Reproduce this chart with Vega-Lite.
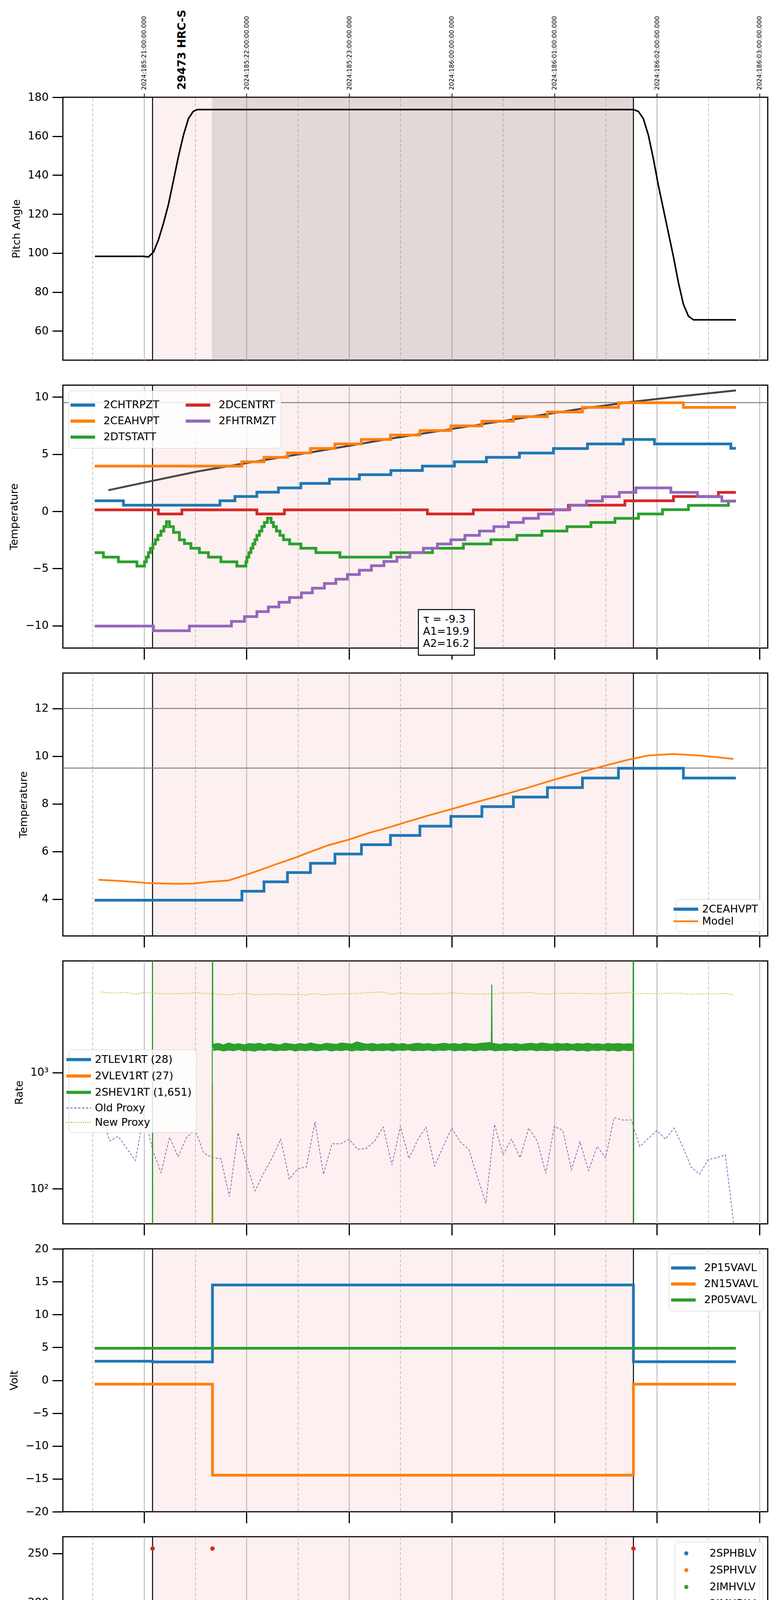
{
  "$schema": "https://vega.github.io/schema/vega-lite/v6.json",
  "padding": {"left": 21, "top": 23, "right": 10, "bottom": 0},
  "background": "white",
  "spacing": 64,
  "bounds": "flush",
  "resolve": {"scale": {"color": "independent", "strokeDash": "independent"}, "legend": {"color": "independent", "strokeDash": "independent"}},
  "config": {
    "font": "DejaVu Sans",
    "view": {"stroke": "black", "strokeWidth": 3},
    "axis": {"labelColor": "black", "titleColor": "black", "tickColor": "black", "domain": false, "labelFont": "DejaVu Sans", "titleFont": "DejaVu Sans", "titleFontWeight": "normal"},
    "axisY": {"tickSize": 27, "tickWidth": 3, "labelFontSize": 28, "labelPadding": 10, "titleFontSize": 27, "titlePadding": 14, "grid": false},
    "axisX": {"tickWidth": 3, "labelFontSize": 28, "labelFlush": false, "labelOverlap": false, "labelLimit": 0},
    "legend": {"labelFontSize": 27, "labelFont": "DejaVu Sans", "labelColor": "black", "symbolSize": 1764, "symbolStrokeWidth": 8, "labelOffset": 28, "rowPadding": 0, "columnPadding": 50, "padding": 12, "fillColor": "rgba(255,255,255,0.8)", "strokeColor": "#cccccc", "cornerRadius": 8, "labelLimit": 500, "offset": 14}
  },
  "datasets": {
    "spans": [{"a": 17.084, "b": 21.771}],
    "dark": [{"a": 17.662, "b": 21.771}],
    "marks": [{"t": 17.084}, {"t": 21.771}],
    "obs": [{"t": 17.376, "label": "29473 HRC-S"}],
    "ref": [{"v": 9.5}, {"v": 12}],
    "pitch": [
      {"t": 16.522, "v": 98.3}, {"t": 17.0, "v": 98.3}, {"t": 17.044, "v": 98.0}, {"t": 17.093, "v": 100.5}, {"t": 17.141, "v": 106.7},
      {"t": 17.19, "v": 115.2}, {"t": 17.239, "v": 125.0}, {"t": 17.288, "v": 137.3}, {"t": 17.336, "v": 149.5}, {"t": 17.385, "v": 160.5},
      {"t": 17.434, "v": 169.1}, {"t": 17.482, "v": 172.8}, {"t": 17.521, "v": 173.7}, {"t": 21.771, "v": 173.7}, {"t": 21.82, "v": 172.7},
      {"t": 21.868, "v": 169.0}, {"t": 21.917, "v": 160.5}, {"t": 21.966, "v": 148.3}, {"t": 22.014, "v": 134.8}, {"t": 22.063, "v": 122.6},
      {"t": 22.112, "v": 110.4}, {"t": 22.161, "v": 98.1}, {"t": 22.21, "v": 84.7}, {"t": 22.258, "v": 73.7}, {"t": 22.307, "v": 67.6},
      {"t": 22.356, "v": 65.7}, {"t": 22.77, "v": 65.7}
    ],
    "p2": [
      {"s": "2CHTRPZT", "t": 16.52, "v": 0.92}, {"s": "2CHTRPZT", "t": 16.8, "v": 0.54}, {"s": "2CHTRPZT", "t": 17.741, "v": 0.92}, {"s": "2CHTRPZT", "t": 17.887, "v": 1.3},
      {"s": "2CHTRPZT", "t": 18.101, "v": 1.67}, {"s": "2CHTRPZT", "t": 18.311, "v": 2.05}, {"s": "2CHTRPZT", "t": 18.53, "v": 2.44}, {"s": "2CHTRPZT", "t": 18.808, "v": 2.82},
      {"s": "2CHTRPZT", "t": 19.1, "v": 3.2}, {"s": "2CHTRPZT", "t": 19.407, "v": 3.57}, {"s": "2CHTRPZT", "t": 19.714, "v": 3.95}, {"s": "2CHTRPZT", "t": 20.026, "v": 4.33},
      {"s": "2CHTRPZT", "t": 20.338, "v": 4.72}, {"s": "2CHTRPZT", "t": 20.66, "v": 5.1}, {"s": "2CHTRPZT", "t": 20.991, "v": 5.49}, {"s": "2CHTRPZT", "t": 21.323, "v": 5.89},
      {"s": "2CHTRPZT", "t": 21.673, "v": 6.28}, {"s": "2CHTRPZT", "t": 21.976, "v": 5.89}, {"s": "2CHTRPZT", "t": 22.721, "v": 5.51}, {"s": "2CHTRPZT", "t": 22.77, "v": 5.51},
      {"s": "2CEAHVPT", "t": 16.52, "v": 3.95}, {"s": "2CEAHVPT", "t": 17.955, "v": 4.33}, {"s": "2CEAHVPT", "t": 18.17, "v": 4.72}, {"s": "2CEAHVPT", "t": 18.399, "v": 5.11},
      {"s": "2CEAHVPT", "t": 18.623, "v": 5.5}, {"s": "2CEAHVPT", "t": 18.862, "v": 5.89}, {"s": "2CEAHVPT", "t": 19.12, "v": 6.28}, {"s": "2CEAHVPT", "t": 19.403, "v": 6.67},
      {"s": "2CEAHVPT", "t": 19.69, "v": 7.06}, {"s": "2CEAHVPT", "t": 19.992, "v": 7.47}, {"s": "2CEAHVPT", "t": 20.294, "v": 7.88}, {"s": "2CEAHVPT", "t": 20.601, "v": 8.28},
      {"s": "2CEAHVPT", "t": 20.933, "v": 8.68}, {"s": "2CEAHVPT", "t": 21.274, "v": 9.08}, {"s": "2CEAHVPT", "t": 21.625, "v": 9.49}, {"s": "2CEAHVPT", "t": 22.258, "v": 9.08},
      {"s": "2CEAHVPT", "t": 22.77, "v": 9.08},
      {"s": "2DTSTATT", "t": 16.52, "v": -3.61}, {"s": "2DTSTATT", "t": 16.605, "v": -4.0}, {"s": "2DTSTATT", "t": 16.751, "v": -4.41}, {"s": "2DTSTATT", "t": 16.932, "v": -4.79},
      {"s": "2DTSTATT", "t": 17.005, "v": -4.41}, {"s": "2DTSTATT", "t": 17.024, "v": -4.0}, {"s": "2DTSTATT", "t": 17.044, "v": -3.61}, {"s": "2DTSTATT", "t": 17.063, "v": -3.23},
      {"s": "2DTSTATT", "t": 17.088, "v": -2.85}, {"s": "2DTSTATT", "t": 17.112, "v": -2.48}, {"s": "2DTSTATT", "t": 17.136, "v": -2.1}, {"s": "2DTSTATT", "t": 17.166, "v": -1.72},
      {"s": "2DTSTATT", "t": 17.195, "v": -1.34}, {"s": "2DTSTATT", "t": 17.219, "v": -0.9}, {"s": "2DTSTATT", "t": 17.249, "v": -1.34}, {"s": "2DTSTATT", "t": 17.288, "v": -1.84},
      {"s": "2DTSTATT", "t": 17.346, "v": -2.49}, {"s": "2DTSTATT", "t": 17.395, "v": -2.82}, {"s": "2DTSTATT", "t": 17.458, "v": -3.23}, {"s": "2DTSTATT", "t": 17.541, "v": -3.61},
      {"s": "2DTSTATT", "t": 17.629, "v": -4.0}, {"s": "2DTSTATT", "t": 17.75, "v": -4.41}, {"s": "2DTSTATT", "t": 17.906, "v": -4.79}, {"s": "2DTSTATT", "t": 17.994, "v": -4.41},
      {"s": "2DTSTATT", "t": 18.004, "v": -4.0}, {"s": "2DTSTATT", "t": 18.023, "v": -3.61}, {"s": "2DTSTATT", "t": 18.043, "v": -3.23}, {"s": "2DTSTATT", "t": 18.062, "v": -2.85},
      {"s": "2DTSTATT", "t": 18.082, "v": -2.48}, {"s": "2DTSTATT", "t": 18.101, "v": -2.1}, {"s": "2DTSTATT", "t": 18.126, "v": -1.72}, {"s": "2DTSTATT", "t": 18.15, "v": -1.34},
      {"s": "2DTSTATT", "t": 18.174, "v": -0.97}, {"s": "2DTSTATT", "t": 18.204, "v": -0.6}, {"s": "2DTSTATT", "t": 18.24, "v": -0.97}, {"s": "2DTSTATT", "t": 18.262, "v": -1.34},
      {"s": "2DTSTATT", "t": 18.291, "v": -1.72}, {"s": "2DTSTATT", "t": 18.326, "v": -2.1}, {"s": "2DTSTATT", "t": 18.36, "v": -2.48}, {"s": "2DTSTATT", "t": 18.42, "v": -2.85},
      {"s": "2DTSTATT", "t": 18.53, "v": -3.23}, {"s": "2DTSTATT", "t": 18.676, "v": -3.61}, {"s": "2DTSTATT", "t": 18.91, "v": -4.0}, {"s": "2DTSTATT", "t": 19.407, "v": -3.61},
      {"s": "2DTSTATT", "t": 19.812, "v": -3.23}, {"s": "2DTSTATT", "t": 20.114, "v": -2.85}, {"s": "2DTSTATT", "t": 20.382, "v": -2.48}, {"s": "2DTSTATT", "t": 20.635, "v": -2.1},
      {"s": "2DTSTATT", "t": 20.879, "v": -1.72}, {"s": "2DTSTATT", "t": 21.123, "v": -1.34}, {"s": "2DTSTATT", "t": 21.357, "v": -0.97}, {"s": "2DTSTATT", "t": 21.591, "v": -0.61},
      {"s": "2DTSTATT", "t": 21.82, "v": -0.23}, {"s": "2DTSTATT", "t": 22.054, "v": 0.15}, {"s": "2DTSTATT", "t": 22.307, "v": 0.52}, {"s": "2DTSTATT", "t": 22.697, "v": 0.9},
      {"s": "2DTSTATT", "t": 22.77, "v": 0.9},
      {"s": "2DCENTRT", "t": 16.52, "v": 0.13}, {"s": "2DCENTRT", "t": 17.141, "v": -0.23}, {"s": "2DCENTRT", "t": 17.37, "v": 0.13}, {"s": "2DCENTRT", "t": 18.101, "v": -0.23},
      {"s": "2DCENTRT", "t": 18.369, "v": 0.13}, {"s": "2DCENTRT", "t": 19.763, "v": -0.23}, {"s": "2DCENTRT", "t": 20.211, "v": 0.13}, {"s": "2DCENTRT", "t": 21.137, "v": 0.54},
      {"s": "2DCENTRT", "t": 21.688, "v": 0.92}, {"s": "2DCENTRT", "t": 22.161, "v": 1.3}, {"s": "2DCENTRT", "t": 22.599, "v": 1.66}, {"s": "2DCENTRT", "t": 22.77, "v": 1.66},
      {"s": "2FHTRMZT", "t": 16.52, "v": -10.03}, {"s": "2FHTRMZT", "t": 17.093, "v": -10.44}, {"s": "2FHTRMZT", "t": 17.443, "v": -10.03}, {"s": "2FHTRMZT", "t": 17.853, "v": -9.62},
      {"s": "2FHTRMZT", "t": 17.98, "v": -9.2}, {"s": "2FHTRMZT", "t": 18.101, "v": -8.77}, {"s": "2FHTRMZT", "t": 18.213, "v": -8.36}, {"s": "2FHTRMZT", "t": 18.316, "v": -7.95},
      {"s": "2FHTRMZT", "t": 18.418, "v": -7.54}, {"s": "2FHTRMZT", "t": 18.535, "v": -7.13}, {"s": "2FHTRMZT", "t": 18.642, "v": -6.72}, {"s": "2FHTRMZT", "t": 18.759, "v": -6.31},
      {"s": "2FHTRMZT", "t": 18.871, "v": -5.93}, {"s": "2FHTRMZT", "t": 18.983, "v": -5.52}, {"s": "2FHTRMZT", "t": 19.1, "v": -5.15}, {"s": "2FHTRMZT", "t": 19.217, "v": -4.75},
      {"s": "2FHTRMZT", "t": 19.339, "v": -4.38}, {"s": "2FHTRMZT", "t": 19.466, "v": -4.0}, {"s": "2FHTRMZT", "t": 19.593, "v": -3.61}, {"s": "2FHTRMZT", "t": 19.724, "v": -3.23},
      {"s": "2FHTRMZT", "t": 19.861, "v": -2.85}, {"s": "2FHTRMZT", "t": 19.992, "v": -2.48}, {"s": "2FHTRMZT", "t": 20.129, "v": -2.1}, {"s": "2FHTRMZT", "t": 20.27, "v": -1.72},
      {"s": "2FHTRMZT", "t": 20.411, "v": -1.34}, {"s": "2FHTRMZT", "t": 20.553, "v": -0.97}, {"s": "2FHTRMZT", "t": 20.699, "v": -0.61}, {"s": "2FHTRMZT", "t": 20.845, "v": -0.23},
      {"s": "2FHTRMZT", "t": 20.991, "v": 0.15}, {"s": "2FHTRMZT", "t": 21.152, "v": 0.52}, {"s": "2FHTRMZT", "t": 21.313, "v": 0.9}, {"s": "2FHTRMZT", "t": 21.469, "v": 1.28},
      {"s": "2FHTRMZT", "t": 21.634, "v": 1.66}, {"s": "2FHTRMZT", "t": 21.795, "v": 2.05}, {"s": "2FHTRMZT", "t": 22.136, "v": 1.66}, {"s": "2FHTRMZT", "t": 22.395, "v": 1.28},
      {"s": "2FHTRMZT", "t": 22.633, "v": 0.9}, {"s": "2FHTRMZT", "t": 22.77, "v": 0.9}
    ],
    "fit": [
      {"t": 16.654, "v": 1.85}, {"t": 17.044, "v": 2.59}, {"t": 17.531, "v": 3.5}, {"t": 17.955, "v": 4.15}, {"t": 18.628, "v": 5.16}, {"t": 19.407, "v": 6.36},
      {"t": 20.299, "v": 7.62}, {"t": 21.274, "v": 8.98}, {"t": 21.771, "v": 9.59}, {"t": 22.258, "v": 10.08}, {"t": 22.77, "v": 10.57}
    ],
    "fitbox": [{"a": 19.675, "b": 20.221, "lo": -12.57, "hi": -8.59}],
    "fittext": [
      {"t": 19.72, "v": -9.46, "label": "τ = -9.3"},
      {"t": 19.72, "v": -10.52, "label": "A1=19.9"},
      {"t": 19.72, "v": -11.59, "label": "A2=16.2"}
    ],
    "model": [
      {"s": "Model", "t": 16.557, "v": 4.81}, {"s": "Model", "t": 16.8, "v": 4.75}, {"s": "Model", "t": 17.044, "v": 4.67}, {"s": "Model", "t": 17.312, "v": 4.64},
      {"s": "Model", "t": 17.482, "v": 4.65}, {"s": "Model", "t": 17.629, "v": 4.72}, {"s": "Model", "t": 17.824, "v": 4.78}, {"s": "Model", "t": 17.97, "v": 4.98},
      {"s": "Model", "t": 18.116, "v": 5.19}, {"s": "Model", "t": 18.287, "v": 5.46}, {"s": "Model", "t": 18.457, "v": 5.71}, {"s": "Model", "t": 18.628, "v": 5.99},
      {"s": "Model", "t": 18.798, "v": 6.26}, {"s": "Model", "t": 18.993, "v": 6.49}, {"s": "Model", "t": 19.188, "v": 6.77}, {"s": "Model", "t": 19.383, "v": 7.0},
      {"s": "Model", "t": 19.578, "v": 7.26}, {"s": "Model", "t": 19.773, "v": 7.51}, {"s": "Model", "t": 19.968, "v": 7.74}, {"s": "Model", "t": 20.163, "v": 7.98},
      {"s": "Model", "t": 20.358, "v": 8.21}, {"s": "Model", "t": 20.553, "v": 8.44}, {"s": "Model", "t": 20.748, "v": 8.68}, {"s": "Model", "t": 20.942, "v": 8.94},
      {"s": "Model", "t": 21.137, "v": 9.18}, {"s": "Model", "t": 21.332, "v": 9.41}, {"s": "Model", "t": 21.527, "v": 9.64}, {"s": "Model", "t": 21.722, "v": 9.85},
      {"s": "Model", "t": 21.917, "v": 10.03}, {"s": "Model", "t": 22.161, "v": 10.09}, {"s": "Model", "t": 22.404, "v": 10.03}, {"s": "Model", "t": 22.599, "v": 9.95},
      {"s": "Model", "t": 22.746, "v": 9.88}
    ],
    "rate": [
      {"s": "2TLEV1RT (28)", "t": 16.52, "v": 28}, {"s": "2TLEV1RT (28)", "t": 22.77, "v": 28},
      {"s": "2VLEV1RT (27)", "t": 16.52, "v": 27}, {"s": "2VLEV1RT (27)", "t": 17.664, "v": 27}, {"s": "2VLEV1RT (27)", "t": 17.668, "v": 800},
      {"s": "2VLEV1RT (27)", "t": 17.672, "v": 27}, {"s": "2VLEV1RT (27)", "t": 22.77, "v": 27},
      {"s": "2SHEV1RT (1,651)", "t": 16.52, "v": 1}, {"s": "2SHEV1RT (1,651)", "t": 17.082, "v": 1}, {"s": "2SHEV1RT (1,651)", "t": 17.084, "v": 100000},
      {"s": "2SHEV1RT (1,651)", "t": 17.086, "v": 1}, {"s": "2SHEV1RT (1,651)", "t": 17.664, "v": 1}, {"s": "2SHEV1RT (1,651)", "t": 17.668, "v": 100000},
      {"s": "2SHEV1RT (1,651)", "t": 17.672, "v": 1650}, {"s": "2SHEV1RT (1,651)", "t": 20.386, "v": 1650}, {"s": "2SHEV1RT (1,651)", "t": 20.39, "v": 5700},
      {"s": "2SHEV1RT (1,651)", "t": 20.394, "v": 1650}, {"s": "2SHEV1RT (1,651)", "t": 21.767, "v": 1650}, {"s": "2SHEV1RT (1,651)", "t": 21.771, "v": 100000},
      {"s": "2SHEV1RT (1,651)", "t": 21.775, "v": 1}, {"s": "2SHEV1RT (1,651)", "t": 22.77, "v": 1}
    ],
    "shevband": [
      {"t": 17.675, "lo": 1530, "hi": 1765}, {"t": 17.725, "lo": 1552, "hi": 1799}, {"t": 17.775, "lo": 1515, "hi": 1740}, {"t": 17.825, "lo": 1545, "hi": 1810},
      {"t": 17.875, "lo": 1525, "hi": 1760}, {"t": 17.925, "lo": 1560, "hi": 1785}, {"t": 17.975, "lo": 1520, "hi": 1745}, {"t": 18.025, "lo": 1540, "hi": 1790},
      {"t": 18.075, "lo": 1510, "hi": 1770}, {"t": 18.125, "lo": 1548, "hi": 1800}, {"t": 18.175, "lo": 1528, "hi": 1750}, {"t": 18.225, "lo": 1555, "hi": 1795},
      {"t": 18.275, "lo": 1518, "hi": 1765}, {"t": 18.325, "lo": 1540, "hi": 1740}, {"t": 18.375, "lo": 1530, "hi": 1805}, {"t": 18.425, "lo": 1558, "hi": 1775},
      {"t": 18.475, "lo": 1512, "hi": 1755}, {"t": 18.525, "lo": 1545, "hi": 1790}, {"t": 18.575, "lo": 1525, "hi": 1760}, {"t": 18.625, "lo": 1550, "hi": 1815},
      {"t": 18.675, "lo": 1520, "hi": 1770}, {"t": 18.725, "lo": 1538, "hi": 1750}, {"t": 18.775, "lo": 1556, "hi": 1800}, {"t": 18.825, "lo": 1515, "hi": 1780},
      {"t": 18.875, "lo": 1542, "hi": 1760}, {"t": 18.925, "lo": 1528, "hi": 1810}, {"t": 18.975, "lo": 1552, "hi": 1790}, {"t": 19.025, "lo": 1518, "hi": 1770},
      {"t": 19.075, "lo": 1545, "hi": 1850}, {"t": 19.125, "lo": 1530, "hi": 1800}, {"t": 19.175, "lo": 1556, "hi": 1765}, {"t": 19.225, "lo": 1520, "hi": 1795},
      {"t": 19.275, "lo": 1540, "hi": 1755}, {"t": 19.325, "lo": 1525, "hi": 1785}, {"t": 19.375, "lo": 1550, "hi": 1770}, {"t": 19.425, "lo": 1515, "hi": 1800},
      {"t": 19.475, "lo": 1545, "hi": 1760}, {"t": 19.525, "lo": 1530, "hi": 1790}, {"t": 19.575, "lo": 1555, "hi": 1750}, {"t": 19.625, "lo": 1522, "hi": 1780},
      {"t": 19.675, "lo": 1540, "hi": 1805}, {"t": 19.725, "lo": 1528, "hi": 1765}, {"t": 19.775, "lo": 1552, "hi": 1790}, {"t": 19.825, "lo": 1518, "hi": 1755},
      {"t": 19.875, "lo": 1545, "hi": 1775}, {"t": 19.925, "lo": 1530, "hi": 1800}, {"t": 19.975, "lo": 1558, "hi": 1770}, {"t": 20.025, "lo": 1520, "hi": 1790},
      {"t": 20.075, "lo": 1540, "hi": 1760}, {"t": 20.125, "lo": 1526, "hi": 1800}, {"t": 20.175, "lo": 1550, "hi": 1780}, {"t": 20.225, "lo": 1515, "hi": 1765},
      {"t": 20.275, "lo": 1545, "hi": 1795}, {"t": 20.325, "lo": 1530, "hi": 1810}, {"t": 20.375, "lo": 1555, "hi": 1830}, {"t": 20.425, "lo": 1520, "hi": 1780},
      {"t": 20.475, "lo": 1540, "hi": 1760}, {"t": 20.525, "lo": 1528, "hi": 1795}, {"t": 20.575, "lo": 1552, "hi": 1770}, {"t": 20.625, "lo": 1518, "hi": 1790},
      {"t": 20.675, "lo": 1545, "hi": 1755}, {"t": 20.725, "lo": 1530, "hi": 1785}, {"t": 20.775, "lo": 1556, "hi": 1800}, {"t": 20.825, "lo": 1522, "hi": 1770},
      {"t": 20.875, "lo": 1540, "hi": 1810}, {"t": 20.925, "lo": 1526, "hi": 1790}, {"t": 20.975, "lo": 1550, "hi": 1765}, {"t": 21.025, "lo": 1515, "hi": 1800},
      {"t": 21.075, "lo": 1545, "hi": 1775}, {"t": 21.125, "lo": 1530, "hi": 1795}, {"t": 21.175, "lo": 1555, "hi": 1760}, {"t": 21.225, "lo": 1520, "hi": 1790},
      {"t": 21.275, "lo": 1540, "hi": 1770}, {"t": 21.325, "lo": 1512, "hi": 1800}, {"t": 21.375, "lo": 1545, "hi": 1765}, {"t": 21.425, "lo": 1528, "hi": 1785},
      {"t": 21.475, "lo": 1552, "hi": 1760}, {"t": 21.525, "lo": 1518, "hi": 1795}, {"t": 21.575, "lo": 1540, "hi": 1775}, {"t": 21.625, "lo": 1510, "hi": 1790},
      {"t": 21.675, "lo": 1545, "hi": 1765}, {"t": 21.725, "lo": 1525, "hi": 1785}, {"t": 21.765, "lo": 1540, "hi": 1770}
    ],
    "proxy": [
      {"t": 16.583, "Old Proxy": 438, "New Proxy": 4929}, {"t": 16.667, "Old Proxy": 258, "New Proxy": 4820}, {"t": 16.75, "Old Proxy": 282, "New Proxy": 4838},
      {"t": 16.833, "Old Proxy": 222, "New Proxy": 4875}, {"t": 16.917, "Old Proxy": 175, "New Proxy": 4698}, {"t": 17.0, "Old Proxy": 446, "New Proxy": 4875},
      {"t": 17.083, "Old Proxy": 218, "New Proxy": 4803}, {"t": 17.167, "Old Proxy": 138, "New Proxy": 4750}, {"t": 17.25, "Old Proxy": 277, "New Proxy": 4750},
      {"t": 17.333, "Old Proxy": 189, "New Proxy": 4767}, {"t": 17.417, "Old Proxy": 277, "New Proxy": 4785}, {"t": 17.5, "Old Proxy": 321, "New Proxy": 4838},
      {"t": 17.583, "Old Proxy": 203, "New Proxy": 4803}, {"t": 17.667, "Old Proxy": 185, "New Proxy": 4767}, {"t": 17.75, "Old Proxy": 182, "New Proxy": 4698},
      {"t": 17.833, "Old Proxy": 86, "New Proxy": 4647}, {"t": 17.917, "Old Proxy": 304, "New Proxy": 4785}, {"t": 18.0, "Old Proxy": 163, "New Proxy": 4785},
      {"t": 18.083, "Old Proxy": 96, "New Proxy": 4664}, {"t": 18.167, "Old Proxy": 136, "New Proxy": 4698}, {"t": 18.25, "Old Proxy": 185, "New Proxy": 4715},
      {"t": 18.333, "Old Proxy": 267, "New Proxy": 4715}, {"t": 18.417, "Old Proxy": 121, "New Proxy": 4681}, {"t": 18.5, "Old Proxy": 149, "New Proxy": 4681},
      {"t": 18.583, "Old Proxy": 154, "New Proxy": 4647}, {"t": 18.667, "Old Proxy": 378, "New Proxy": 4785}, {"t": 18.75, "Old Proxy": 133, "New Proxy": 4647},
      {"t": 18.833, "Old Proxy": 244, "New Proxy": 4715}, {"t": 18.917, "Old Proxy": 244, "New Proxy": 4750}, {"t": 19.0, "Old Proxy": 267, "New Proxy": 4750},
      {"t": 19.083, "Old Proxy": 218, "New Proxy": 4785}, {"t": 19.167, "Old Proxy": 222, "New Proxy": 4838}, {"t": 19.25, "Old Proxy": 258, "New Proxy": 4893},
      {"t": 19.333, "Old Proxy": 339, "New Proxy": 4929}, {"t": 19.417, "Old Proxy": 160, "New Proxy": 4681}, {"t": 19.5, "Old Proxy": 345, "New Proxy": 4856},
      {"t": 19.583, "Old Proxy": 182, "New Proxy": 4750}, {"t": 19.667, "Old Proxy": 262, "New Proxy": 4750}, {"t": 19.75, "Old Proxy": 339, "New Proxy": 4733},
      {"t": 19.833, "Old Proxy": 157, "New Proxy": 4750}, {"t": 19.917, "Old Proxy": 231, "New Proxy": 4750}, {"t": 20.0, "Old Proxy": 333, "New Proxy": 4838},
      {"t": 20.083, "Old Proxy": 253, "New Proxy": 4785}, {"t": 20.167, "Old Proxy": 218, "New Proxy": 4750}, {"t": 20.25, "Old Proxy": 126, "New Proxy": 4715},
      {"t": 20.333, "Old Proxy": 75, "New Proxy": 4715}, {"t": 20.417, "Old Proxy": 358, "New Proxy": 4750}, {"t": 20.5, "Old Proxy": 196, "New Proxy": 4820},
      {"t": 20.583, "Old Proxy": 267, "New Proxy": 4820}, {"t": 20.667, "Old Proxy": 185, "New Proxy": 4838}, {"t": 20.75, "Old Proxy": 333, "New Proxy": 4875},
      {"t": 20.833, "Old Proxy": 258, "New Proxy": 4785}, {"t": 20.917, "Old Proxy": 136, "New Proxy": 4698}, {"t": 21.0, "Old Proxy": 345, "New Proxy": 4785},
      {"t": 21.083, "Old Proxy": 317, "New Proxy": 4785}, {"t": 21.167, "Old Proxy": 146, "New Proxy": 4803}, {"t": 21.25, "Old Proxy": 253, "New Proxy": 4785},
      {"t": 21.333, "Old Proxy": 143, "New Proxy": 4767}, {"t": 21.417, "Old Proxy": 231, "New Proxy": 4767}, {"t": 21.5, "Old Proxy": 185, "New Proxy": 4750},
      {"t": 21.583, "Old Proxy": 410, "New Proxy": 4820}, {"t": 21.667, "Old Proxy": 390, "New Proxy": 4820}, {"t": 21.75, "Old Proxy": 390, "New Proxy": 4856},
      {"t": 21.833, "Old Proxy": 231, "New Proxy": 4750}, {"t": 21.917, "Old Proxy": 272, "New Proxy": 4785}, {"t": 22.0, "Old Proxy": 317, "New Proxy": 4750},
      {"t": 22.083, "Old Proxy": 267, "New Proxy": 4785}, {"t": 22.167, "Old Proxy": 333, "New Proxy": 4820}, {"t": 22.25, "Old Proxy": 231, "New Proxy": 4767},
      {"t": 22.333, "Old Proxy": 154, "New Proxy": 4698}, {"t": 22.417, "Old Proxy": 133, "New Proxy": 4733}, {"t": 22.5, "Old Proxy": 179, "New Proxy": 4733},
      {"t": 22.583, "Old Proxy": 185, "New Proxy": 4750}, {"t": 22.667, "Old Proxy": 196, "New Proxy": 4767}, {"t": 22.75, "Old Proxy": 49, "New Proxy": 4647}
    ],
    "volt": [
      {"s": "2P15VAVL", "t": 16.52, "v": 2.9}, {"s": "2P15VAVL", "t": 17.084, "v": 2.79}, {"s": "2P15VAVL", "t": 17.668, "v": 14.5}, {"s": "2P15VAVL", "t": 21.771, "v": 2.82}, {"s": "2P15VAVL", "t": 22.77, "v": 2.82},
      {"s": "2N15VAVL", "t": 16.52, "v": -0.59}, {"s": "2N15VAVL", "t": 17.668, "v": -14.45}, {"s": "2N15VAVL", "t": 21.771, "v": -0.59}, {"s": "2N15VAVL", "t": 22.77, "v": -0.59},
      {"s": "2P05VAVL", "t": 16.52, "v": 4.87}, {"s": "2P05VAVL", "t": 22.77, "v": 4.87}
    ],
    "hv": [
      {"s": "2SPHBLV", "t": 17.682, "v": 118}, {"s": "2SPHBLV", "t": 17.687, "v": 102}, {"s": "2SPHBLV", "t": 17.702, "v": 97}, {"s": "2SPHBLV", "t": 17.711, "v": 92},
      {"s": "2SPHBLV", "t": 17.721, "v": 87}, {"s": "2SPHBLV", "t": 17.736, "v": 82},
      {"s": "2SPHVLV", "t": 17.682, "v": 127}, {"s": "2SPHVLV", "t": 17.687, "v": 96}, {"s": "2SPHVLV", "t": 17.697, "v": 91}, {"s": "2SPHVLV", "t": 17.706, "v": 85},
      {"s": "2SPHVLV", "t": 17.716, "v": 80}, {"s": "2SPHVLV", "t": 17.731, "v": 75}, {"s": "2SPHVLV", "t": 20.358, "v": 127}, {"s": "2SPHVLV", "t": 20.416, "v": 127},
      {"s": "2SPHVLV", "t": 20.894, "v": 127}, {"s": "2SPHVLV", "t": 20.908, "v": 127}, {"s": "2SPHVLV", "t": 21.0, "v": 127}, {"s": "2SPHVLV", "t": 21.06, "v": 127},
      {"s": "2IMHBLV", "t": 17.084, "v": 255}, {"s": "2IMHBLV", "t": 17.668, "v": 255}, {"s": "2IMHBLV", "t": 21.771, "v": 255}
    ],
    "hvband": [
      {"t": 17.74, "2SPHBLV": 77.3, "2SPHVLV": 70.8}, {"t": 17.78, "2SPHBLV": 77.3, "2SPHVLV": 70.8}, {"t": 17.82, "2SPHBLV": 77.3, "2SPHVLV": 70.8}, {"t": 17.86, "2SPHBLV": 77.3, "2SPHVLV": 70.8},
      {"t": 17.9, "2SPHBLV": 77.3, "2SPHVLV": 70.8}, {"t": 17.94, "2SPHBLV": 77.3, "2SPHVLV": 70.8}, {"t": 17.98, "2SPHBLV": 77.3, "2SPHVLV": 70.8}, {"t": 18.02, "2SPHBLV": 77.3, "2SPHVLV": 70.8},
      {"t": 18.06, "2SPHBLV": 77.3, "2SPHVLV": 70.8}, {"t": 18.1, "2SPHBLV": 77.3, "2SPHVLV": 70.8}, {"t": 18.14, "2SPHBLV": 77.3, "2SPHVLV": 70.8}, {"t": 18.18, "2SPHBLV": 77.3, "2SPHVLV": 70.8},
      {"t": 18.22, "2SPHBLV": 77.3, "2SPHVLV": 70.8}, {"t": 18.26, "2SPHBLV": 77.3, "2SPHVLV": 70.8}, {"t": 18.3, "2SPHBLV": 77.3, "2SPHVLV": 70.8}, {"t": 18.34, "2SPHBLV": 77.3, "2SPHVLV": 70.8},
      {"t": 18.38, "2SPHBLV": 77.3, "2SPHVLV": 70.8}, {"t": 18.42, "2SPHBLV": 77.3, "2SPHVLV": 70.8}, {"t": 18.46, "2SPHBLV": 77.3, "2SPHVLV": 70.8}, {"t": 18.5, "2SPHBLV": 77.3, "2SPHVLV": 70.8},
      {"t": 18.54, "2SPHBLV": 77.3, "2SPHVLV": 70.8}, {"t": 18.58, "2SPHBLV": 77.3, "2SPHVLV": 70.8}, {"t": 18.62, "2SPHBLV": 77.3, "2SPHVLV": 70.8}, {"t": 18.66, "2SPHBLV": 77.3, "2SPHVLV": 70.8},
      {"t": 18.7, "2SPHBLV": 77.3, "2SPHVLV": 70.8}, {"t": 18.74, "2SPHBLV": 77.3, "2SPHVLV": 70.8}, {"t": 18.78, "2SPHBLV": 77.3, "2SPHVLV": 70.8}, {"t": 18.82, "2SPHBLV": 77.3, "2SPHVLV": 70.8},
      {"t": 18.86, "2SPHBLV": 77.3, "2SPHVLV": 70.8}, {"t": 18.9, "2SPHBLV": 77.3, "2SPHVLV": 70.8}, {"t": 18.94, "2SPHBLV": 77.3, "2SPHVLV": 70.8}, {"t": 18.98, "2SPHBLV": 77.3, "2SPHVLV": 70.8},
      {"t": 19.02, "2SPHBLV": 77.3, "2SPHVLV": 70.8}, {"t": 19.06, "2SPHBLV": 77.3, "2SPHVLV": 70.8}, {"t": 19.1, "2SPHBLV": 77.3, "2SPHVLV": 70.8}, {"t": 19.14, "2SPHBLV": 77.3, "2SPHVLV": 70.8},
      {"t": 19.18, "2SPHBLV": 77.3, "2SPHVLV": 70.8}, {"t": 19.22, "2SPHBLV": 77.3, "2SPHVLV": 70.8}, {"t": 19.26, "2SPHBLV": 77.3, "2SPHVLV": 70.8}, {"t": 19.3, "2SPHBLV": 77.3, "2SPHVLV": 70.8},
      {"t": 19.34, "2SPHBLV": 77.3, "2SPHVLV": 70.8}, {"t": 19.38, "2SPHBLV": 77.3, "2SPHVLV": 70.8}, {"t": 19.42, "2SPHBLV": 77.3, "2SPHVLV": 70.8}, {"t": 19.46, "2SPHBLV": 77.3, "2SPHVLV": 70.8},
      {"t": 19.5, "2SPHBLV": 77.3, "2SPHVLV": 70.8}, {"t": 19.54, "2SPHBLV": 77.3, "2SPHVLV": 70.8}, {"t": 19.58, "2SPHBLV": 77.3, "2SPHVLV": 70.8}, {"t": 19.62, "2SPHBLV": 77.3, "2SPHVLV": 70.8},
      {"t": 19.66, "2SPHBLV": 77.3, "2SPHVLV": 70.8}, {"t": 19.7, "2SPHBLV": 77.3, "2SPHVLV": 70.8}, {"t": 19.74, "2SPHBLV": 77.3, "2SPHVLV": 70.8}, {"t": 19.78, "2SPHBLV": 77.3, "2SPHVLV": 70.8},
      {"t": 19.82, "2SPHBLV": 77.3, "2SPHVLV": 70.8}, {"t": 19.86, "2SPHBLV": 77.3, "2SPHVLV": 70.8}, {"t": 19.9, "2SPHBLV": 77.3, "2SPHVLV": 70.8}, {"t": 19.94, "2SPHBLV": 77.3, "2SPHVLV": 70.8},
      {"t": 19.98, "2SPHBLV": 77.3, "2SPHVLV": 70.8}, {"t": 20.02, "2SPHBLV": 77.3, "2SPHVLV": 70.8}, {"t": 20.06, "2SPHBLV": 77.3, "2SPHVLV": 70.8}, {"t": 20.1, "2SPHBLV": 77.3, "2SPHVLV": 70.8},
      {"t": 20.14, "2SPHBLV": 77.3, "2SPHVLV": 70.8}, {"t": 20.18, "2SPHBLV": 77.3, "2SPHVLV": 70.8}, {"t": 20.22, "2SPHBLV": 77.3, "2SPHVLV": 70.8}, {"t": 20.26, "2SPHBLV": 77.3, "2SPHVLV": 70.8},
      {"t": 20.3, "2SPHBLV": 77.3, "2SPHVLV": 70.8}, {"t": 20.34, "2SPHBLV": 77.3, "2SPHVLV": 70.8}, {"t": 20.38, "2SPHBLV": 77.3, "2SPHVLV": 70.8}, {"t": 20.42, "2SPHBLV": 77.3, "2SPHVLV": 70.8},
      {"t": 20.46, "2SPHBLV": 77.3, "2SPHVLV": 70.8}, {"t": 20.5, "2SPHBLV": 77.3, "2SPHVLV": 70.8}, {"t": 20.54, "2SPHBLV": 77.3, "2SPHVLV": 70.8}, {"t": 20.58, "2SPHBLV": 77.3, "2SPHVLV": 70.8},
      {"t": 20.62, "2SPHBLV": 77.3, "2SPHVLV": 70.8}, {"t": 20.66, "2SPHBLV": 77.3, "2SPHVLV": 70.8}, {"t": 20.7, "2SPHBLV": 77.3, "2SPHVLV": 70.8}, {"t": 20.74, "2SPHBLV": 77.3, "2SPHVLV": 70.8},
      {"t": 20.78, "2SPHBLV": 77.3, "2SPHVLV": 70.8}, {"t": 20.82, "2SPHBLV": 77.3, "2SPHVLV": 70.8}, {"t": 20.86, "2SPHBLV": 77.3, "2SPHVLV": 70.8}, {"t": 20.9, "2SPHBLV": 77.3, "2SPHVLV": 70.8},
      {"t": 20.94, "2SPHBLV": 77.3, "2SPHVLV": 70.8}, {"t": 20.98, "2SPHBLV": 77.3, "2SPHVLV": 70.8}, {"t": 21.02, "2SPHBLV": 77.3, "2SPHVLV": 70.8}, {"t": 21.06, "2SPHBLV": 77.3, "2SPHVLV": 70.8},
      {"t": 21.1, "2SPHBLV": 77.3, "2SPHVLV": 70.8}, {"t": 21.14, "2SPHBLV": 77.3, "2SPHVLV": 70.8}, {"t": 21.18, "2SPHBLV": 77.3, "2SPHVLV": 70.8}, {"t": 21.22, "2SPHBLV": 77.3, "2SPHVLV": 70.8},
      {"t": 21.26, "2SPHBLV": 77.3, "2SPHVLV": 70.8}, {"t": 21.3, "2SPHBLV": 77.3, "2SPHVLV": 70.8}, {"t": 21.34, "2SPHBLV": 77.3, "2SPHVLV": 70.8}, {"t": 21.38, "2SPHBLV": 77.3, "2SPHVLV": 70.8},
      {"t": 21.42, "2SPHBLV": 77.3, "2SPHVLV": 70.8}, {"t": 21.46, "2SPHBLV": 77.3, "2SPHVLV": 70.8}, {"t": 21.5, "2SPHBLV": 77.3, "2SPHVLV": 70.8}, {"t": 21.54, "2SPHBLV": 77.3, "2SPHVLV": 70.8},
      {"t": 21.58, "2SPHBLV": 77.3, "2SPHVLV": 70.8}, {"t": 21.62, "2SPHBLV": 77.3, "2SPHVLV": 70.8}, {"t": 21.66, "2SPHBLV": 77.3, "2SPHVLV": 70.8}, {"t": 21.7, "2SPHBLV": 77.3, "2SPHVLV": 70.8},
      {"t": 21.74, "2SPHBLV": 77.3, "2SPHVLV": 70.8}, {"t": 21.77, "2SPHBLV": 77.3, "2SPHVLV": 70.8}
    ],
    "det": [
      {"s": "2SPINATM", "t": 17.668, "v": 2.17}, {"s": "2SPINATM", "t": 17.702, "v": 1.77}, {"s": "2SPINATM", "t": 17.906, "v": 1.29}, {"s": "2SPINATM", "t": 17.994, "v": 1.77},
      {"s": "2SPINATM", "t": 18.019, "v": 2.3}, {"s": "2SPINATM", "t": 18.043, "v": 2.9}, {"s": "2SPINATM", "t": 18.067, "v": 3.6}, {"s": "2SPINATM", "t": 18.092, "v": 4.1},
      {"s": "2SPINATM", "t": 18.116, "v": 4.6}, {"s": "2SPINATM", "t": 18.14, "v": 5.3}, {"s": "2SPINATM", "t": 18.165, "v": 5.8}, {"s": "2SPINATM", "t": 18.189, "v": 6.3},
      {"s": "2SPINATM", "t": 18.213, "v": 6.73}, {"s": "2SPINATM", "t": 18.262, "v": 6.3}, {"s": "2SPINATM", "t": 18.301, "v": 5.7}, {"s": "2SPINATM", "t": 18.34, "v": 5.0},
      {"s": "2SPINATM", "t": 18.384, "v": 4.5}, {"s": "2SPINATM", "t": 18.433, "v": 4.0}, {"s": "2SPINATM", "t": 18.481, "v": 3.6}, {"s": "2SPINATM", "t": 18.53, "v": 3.2},
      {"s": "2SPINATM", "t": 18.613, "v": 2.7}, {"s": "2SPINATM", "t": 18.749, "v": 2.2}, {"s": "2SPINATM", "t": 18.979, "v": 1.77},
      {"s": "2SPINATM", "t": 20.32, "v": -5}, {"s": "2SPINATM", "t": 20.336, "v": 1.77}, {"s": "2SPINATM", "t": 20.352, "v": -5}, {"s": "2SPINATM", "t": 20.368, "v": 1.77},
      {"s": "2SPINATM", "t": 20.384, "v": -5}, {"s": "2SPINATM", "t": 20.4, "v": 1.77}, {"s": "2SPINATM", "t": 20.416, "v": -5}, {"s": "2SPINATM", "t": 20.432, "v": 1.77},
      {"s": "2SPINATM", "t": 20.448, "v": -5}, {"s": "2SPINATM", "t": 20.464, "v": 2.22},
      {"s": "2SPINATM", "t": 20.506, "v": -5}, {"s": "2SPINATM", "t": 20.517, "v": 2.22}, {"s": "2SPINATM", "t": 20.528, "v": -5}, {"s": "2SPINATM", "t": 20.539, "v": 2.22},
      {"s": "2SPINATM", "t": 20.55, "v": -5}, {"s": "2SPINATM", "t": 20.561, "v": 2.22},
      {"s": "2SPINATM", "t": 20.886, "v": -5}, {"s": "2SPINATM", "t": 20.902, "v": 2.22}, {"s": "2SPINATM", "t": 20.918, "v": -5}, {"s": "2SPINATM", "t": 20.934, "v": 2.22},
      {"s": "2SPINATM", "t": 20.95, "v": -5}, {"s": "2SPINATM", "t": 20.966, "v": 2.22}, {"s": "2SPINATM", "t": 20.982, "v": -5}, {"s": "2SPINATM", "t": 20.998, "v": 2.22},
      {"s": "2SPINATM", "t": 21.007, "v": -5}, {"s": "2SPINATM", "t": 21.016, "v": 2.22},
      {"s": "2SPINATM", "t": 21.032, "v": -5}, {"s": "2SPINATM", "t": 21.045, "v": 2.22}, {"s": "2SPINATM", "t": 21.058, "v": -5}, {"s": "2SPINATM", "t": 21.069, "v": 2.22},
      {"s": "2SPINATM", "t": 21.235, "v": 2.7}, {"s": "2SPINATM", "t": 21.771, "v": 2.7},
      {"s": "2SPHVATM", "t": 17.668, "v": 11.6}, {"s": "2SPHVATM", "t": 17.672, "v": 12.33}, {"s": "2SPHVATM", "t": 17.687, "v": 12.09}, {"s": "2SPHVATM", "t": 17.775, "v": 12.29},
      {"s": "2SPHVATM", "t": 17.863, "v": 12.61}, {"s": "2SPHVATM", "t": 17.945, "v": 12.97}, {"s": "2SPHVATM", "t": 18.019, "v": 13.29}, {"s": "2SPHVATM", "t": 18.092, "v": 13.64},
      {"s": "2SPHVATM", "t": 18.174, "v": 13.96}, {"s": "2SPHVATM", "t": 18.252, "v": 14.32}, {"s": "2SPHVATM", "t": 18.35, "v": 14.64}, {"s": "2SPHVATM", "t": 18.457, "v": 15.0},
      {"s": "2SPHVATM", "t": 18.569, "v": 15.33}, {"s": "2SPHVATM", "t": 18.691, "v": 15.68}, {"s": "2SPHVATM", "t": 18.823, "v": 16.0}, {"s": "2SPHVATM", "t": 18.969, "v": 16.36},
      {"s": "2SPHVATM", "t": 19.125, "v": 16.69}, {"s": "2SPHVATM", "t": 19.295, "v": 17.04}, {"s": "2SPHVATM", "t": 19.481, "v": 17.41}, {"s": "2SPHVATM", "t": 19.675, "v": 17.76},
      {"s": "2SPHVATM", "t": 19.895, "v": 18.13}, {"s": "2SPHVATM", "t": 20.124, "v": 18.48},
      {"s": "2SPHVATM", "t": 20.32, "v": 8.97}, {"s": "2SPHVATM", "t": 20.336, "v": 18.8}, {"s": "2SPHVATM", "t": 20.352, "v": 8.97}, {"s": "2SPHVATM", "t": 20.368, "v": 18.8},
      {"s": "2SPHVATM", "t": 20.384, "v": 8.97}, {"s": "2SPHVATM", "t": 20.4, "v": 18.8}, {"s": "2SPHVATM", "t": 20.416, "v": 8.97}, {"s": "2SPHVATM", "t": 20.432, "v": 18.8},
      {"s": "2SPHVATM", "t": 20.448, "v": 8.97}, {"s": "2SPHVATM", "t": 20.464, "v": 18.8},
      {"s": "2SPHVATM", "t": 20.506, "v": 9.29}, {"s": "2SPHVATM", "t": 20.517, "v": 18.8}, {"s": "2SPHVATM", "t": 20.528, "v": 9.29}, {"s": "2SPHVATM", "t": 20.539, "v": 18.8},
      {"s": "2SPHVATM", "t": 20.55, "v": 9.29}, {"s": "2SPHVATM", "t": 20.561, "v": 18.8},
      {"s": "2SPHVATM", "t": 20.587, "v": 19.2}, {"s": "2SPHVATM", "t": 20.869, "v": 19.57},
      {"s": "2SPHVATM", "t": 20.886, "v": 9.58}, {"s": "2SPHVATM", "t": 20.902, "v": 19.57}, {"s": "2SPHVATM", "t": 20.918, "v": 9.58}, {"s": "2SPHVATM", "t": 20.934, "v": 19.57},
      {"s": "2SPHVATM", "t": 20.95, "v": 9.58}, {"s": "2SPHVATM", "t": 20.966, "v": 19.57}, {"s": "2SPHVATM", "t": 20.982, "v": 9.58}, {"s": "2SPHVATM", "t": 20.998, "v": 19.57},
      {"s": "2SPHVATM", "t": 21.007, "v": 9.58}, {"s": "2SPHVATM", "t": 21.016, "v": 19.57},
      {"s": "2SPHVATM", "t": 21.032, "v": 9.9}, {"s": "2SPHVATM", "t": 21.045, "v": 19.57}, {"s": "2SPHVATM", "t": 21.058, "v": 9.9}, {"s": "2SPHVATM", "t": 21.069, "v": 19.57},
      {"s": "2SPHVATM", "t": 21.137, "v": 19.92}, {"s": "2SPHVATM", "t": 21.454, "v": 20.32}, {"s": "2SPHVATM", "t": 21.769, "v": 30},
      {"s": "2IMINATM", "t": 17.672, "v": -0.51}, {"s": "2IMINATM", "t": 19.982, "v": -0.03},
      {"s": "2IMINATM", "t": 20.32, "v": 1.85}, {"s": "2IMINATM", "t": 20.336, "v": -0.03}, {"s": "2IMINATM", "t": 20.352, "v": 1.85}, {"s": "2IMINATM", "t": 20.368, "v": -0.03},
      {"s": "2IMINATM", "t": 20.384, "v": 1.85}, {"s": "2IMINATM", "t": 20.4, "v": -0.03}, {"s": "2IMINATM", "t": 20.416, "v": 1.85}, {"s": "2IMINATM", "t": 20.432, "v": -0.03},
      {"s": "2IMINATM", "t": 20.448, "v": 1.85}, {"s": "2IMINATM", "t": 20.464, "v": -0.03},
      {"s": "2IMINATM", "t": 20.506, "v": 2.33}, {"s": "2IMINATM", "t": 20.517, "v": -0.03}, {"s": "2IMINATM", "t": 20.528, "v": 2.33}, {"s": "2IMINATM", "t": 20.539, "v": -0.03},
      {"s": "2IMINATM", "t": 20.55, "v": 2.33}, {"s": "2IMINATM", "t": 20.561, "v": -0.03},
      {"s": "2IMINATM", "t": 20.886, "v": 2.33}, {"s": "2IMINATM", "t": 20.902, "v": -0.03}, {"s": "2IMINATM", "t": 20.918, "v": 2.33}, {"s": "2IMINATM", "t": 20.934, "v": -0.03},
      {"s": "2IMINATM", "t": 20.95, "v": 2.33}, {"s": "2IMINATM", "t": 20.966, "v": -0.03}, {"s": "2IMINATM", "t": 20.982, "v": 2.33}, {"s": "2IMINATM", "t": 20.998, "v": -0.03},
      {"s": "2IMINATM", "t": 21.007, "v": 2.33}, {"s": "2IMINATM", "t": 21.016, "v": -0.03},
      {"s": "2IMINATM", "t": 21.032, "v": 2.33}, {"s": "2IMINATM", "t": 21.045, "v": -0.03}, {"s": "2IMINATM", "t": 21.058, "v": 2.33}, {"s": "2IMINATM", "t": 21.069, "v": -0.03},
      {"s": "2IMINATM", "t": 21.187, "v": 0.37}, {"s": "2IMINATM", "t": 21.771, "v": 0.37},
      {"s": "2IMHVATM", "t": 17.664, "v": -30}, {"s": "2IMHVATM", "t": 17.668, "v": 11.29}, {"s": "2IMHVATM", "t": 18.136, "v": 11.64}, {"s": "2IMHVATM", "t": 18.428, "v": 11.97},
      {"s": "2IMHVATM", "t": 18.671, "v": 12.29}, {"s": "2IMHVATM", "t": 18.89, "v": 12.63}, {"s": "2IMHVATM", "t": 19.12, "v": 12.97}, {"s": "2IMHVATM", "t": 19.354, "v": 13.3},
      {"s": "2IMHVATM", "t": 19.598, "v": 13.64}, {"s": "2IMHVATM", "t": 19.851, "v": 13.97}, {"s": "2IMHVATM", "t": 20.095, "v": 14.31},
      {"s": "2IMHVATM", "t": 20.32, "v": 18.96}, {"s": "2IMHVATM", "t": 20.336, "v": 14.64}, {"s": "2IMHVATM", "t": 20.352, "v": 18.96}, {"s": "2IMHVATM", "t": 20.368, "v": 14.64},
      {"s": "2IMHVATM", "t": 20.384, "v": 18.96}, {"s": "2IMHVATM", "t": 20.4, "v": 14.64}, {"s": "2IMHVATM", "t": 20.416, "v": 18.96}, {"s": "2IMHVATM", "t": 20.432, "v": 14.64},
      {"s": "2IMHVATM", "t": 20.448, "v": 18.96}, {"s": "2IMHVATM", "t": 20.464, "v": 14.64},
      {"s": "2IMHVATM", "t": 20.506, "v": 18.96}, {"s": "2IMHVATM", "t": 20.517, "v": 14.64}, {"s": "2IMHVATM", "t": 20.528, "v": 18.96}, {"s": "2IMHVATM", "t": 20.539, "v": 14.64},
      {"s": "2IMHVATM", "t": 20.55, "v": 18.96}, {"s": "2IMHVATM", "t": 20.561, "v": 14.64},
      {"s": "2IMHVATM", "t": 20.601, "v": 15.0}, {"s": "2IMHVATM", "t": 20.869, "v": 15.33},
      {"s": "2IMHVATM", "t": 20.886, "v": 19.68}, {"s": "2IMHVATM", "t": 20.902, "v": 15.33}, {"s": "2IMHVATM", "t": 20.918, "v": 19.68}, {"s": "2IMHVATM", "t": 20.934, "v": 15.33},
      {"s": "2IMHVATM", "t": 20.95, "v": 19.68}, {"s": "2IMHVATM", "t": 20.966, "v": 15.33}, {"s": "2IMHVATM", "t": 20.982, "v": 19.68}, {"s": "2IMHVATM", "t": 20.998, "v": 15.33},
      {"s": "2IMHVATM", "t": 21.007, "v": 19.68}, {"s": "2IMHVATM", "t": 21.016, "v": 15.33},
      {"s": "2IMHVATM", "t": 21.032, "v": 19.68}, {"s": "2IMHVATM", "t": 21.045, "v": 15.33}, {"s": "2IMHVATM", "t": 21.058, "v": 19.68}, {"s": "2IMHVATM", "t": 21.069, "v": 15.33},
      {"s": "2IMHVATM", "t": 21.137, "v": 15.67}, {"s": "2IMHVATM", "t": 21.43, "v": 16.0}, {"s": "2IMHVATM", "t": 21.713, "v": 16.36}, {"s": "2IMHVATM", "t": 21.771, "v": 40},
      {"s": "2IMHVATM", "t": 21.775, "v": -30}, {"s": "2IMHVATM", "t": 21.78, "v": -30}
    ],
    "fea": [
      {"s": "2FRADPYT", "t": 16.52, "v": -11}, {"s": "2FRADPYT", "t": 18.15, "v": -9.9}, {"s": "2FRADPYT", "t": 18.238, "v": -9.61}, {"s": "2FRADPYT", "t": 18.36, "v": -9.15},
      {"s": "2FRADPYT", "t": 18.467, "v": -8.76}, {"s": "2FRADPYT", "t": 18.569, "v": -8.37}, {"s": "2FRADPYT", "t": 18.686, "v": -7.97}, {"s": "2FRADPYT", "t": 18.808, "v": -7.55},
      {"s": "2FRADPYT", "t": 18.93, "v": -7.17}, {"s": "2FRADPYT", "t": 19.052, "v": -6.75}, {"s": "2FRADPYT", "t": 19.178, "v": -6.35}, {"s": "2FRADPYT", "t": 19.31, "v": -5.96},
      {"s": "2FRADPYT", "t": 19.446, "v": -5.57}, {"s": "2FRADPYT", "t": 19.588, "v": -5.18}, {"s": "2FRADPYT", "t": 19.724, "v": -4.79}, {"s": "2FRADPYT", "t": 19.866, "v": -4.4},
      {"s": "2FRADPYT", "t": 20.007, "v": -4.03}, {"s": "2FRADPYT", "t": 20.153, "v": -3.64}, {"s": "2FRADPYT", "t": 20.309, "v": -3.24}, {"s": "2FRADPYT", "t": 20.455, "v": -2.87},
      {"s": "2FRADPYT", "t": 20.601, "v": -2.48}, {"s": "2FRADPYT", "t": 20.757, "v": -2.11}, {"s": "2FRADPYT", "t": 20.928, "v": -1.74}, {"s": "2FRADPYT", "t": 21.089, "v": -1.35},
      {"s": "2FRADPYT", "t": 21.25, "v": -0.96}, {"s": "2FRADPYT", "t": 21.42, "v": -0.59}, {"s": "2FRADPYT", "t": 21.6, "v": -0.21}, {"s": "2FRADPYT", "t": 21.781, "v": 0.16},
      {"s": "2FRADPYT", "t": 21.927, "v": -0.21}, {"s": "2FRADPYT", "t": 22.088, "v": -0.59}, {"s": "2FRADPYT", "t": 22.219, "v": -0.96}, {"s": "2FRADPYT", "t": 22.356, "v": -1.35},
      {"s": "2FRADPYT", "t": 22.502, "v": -1.74}, {"s": "2FRADPYT", "t": 22.687, "v": -2.11}, {"s": "2FRADPYT", "t": 22.77, "v": -2.11},
      {"s": "2FEPRATM", "t": 16.52, "v": -11.5}, {"s": "2FEPRATM", "t": 17.7, "v": -9.8}, {"s": "2FEPRATM", "t": 17.75, "v": -9.38}, {"s": "2FEPRATM", "t": 17.799, "v": -8.95},
      {"s": "2FEPRATM", "t": 17.858, "v": -8.52}, {"s": "2FEPRATM", "t": 17.921, "v": -8.11}, {"s": "2FEPRATM", "t": 18.004, "v": -7.67}, {"s": "2FEPRATM", "t": 18.092, "v": -7.26},
      {"s": "2FEPRATM", "t": 18.189, "v": -6.84}, {"s": "2FEPRATM", "t": 18.291, "v": -6.43}, {"s": "2FEPRATM", "t": 18.399, "v": -6.01}, {"s": "2FEPRATM", "t": 18.506, "v": -5.6},
      {"s": "2FEPRATM", "t": 18.623, "v": -5.18}, {"s": "2FEPRATM", "t": 18.74, "v": -4.76}, {"s": "2FEPRATM", "t": 18.862, "v": -4.33}, {"s": "2FEPRATM", "t": 18.983, "v": -3.93},
      {"s": "2FEPRATM", "t": 19.11, "v": -3.52}, {"s": "2FEPRATM", "t": 19.247, "v": -3.1}, {"s": "2FEPRATM", "t": 19.383, "v": -2.69}, {"s": "2FEPRATM", "t": 19.52, "v": -2.24},
      {"s": "2FEPRATM", "t": 19.666, "v": -1.81}, {"s": "2FEPRATM", "t": 19.812, "v": -1.39}, {"s": "2FEPRATM", "t": 19.968, "v": -0.95}, {"s": "2FEPRATM", "t": 20.129, "v": -0.52},
      {"s": "2FEPRATM", "t": 20.294, "v": -0.08},
      {"s": "2FEPRATM", "t": 20.32, "v": -8.97}, {"s": "2FEPRATM", "t": 20.336, "v": -0.08}, {"s": "2FEPRATM", "t": 20.352, "v": -8.97}, {"s": "2FEPRATM", "t": 20.368, "v": -0.08},
      {"s": "2FEPRATM", "t": 20.384, "v": -8.97}, {"s": "2FEPRATM", "t": 20.4, "v": -0.08}, {"s": "2FEPRATM", "t": 20.416, "v": -8.97}, {"s": "2FEPRATM", "t": 20.432, "v": -0.08},
      {"s": "2FEPRATM", "t": 20.448, "v": -8.97}, {"s": "2FEPRATM", "t": 20.464, "v": 0.36},
      {"s": "2FEPRATM", "t": 20.506, "v": -8.97}, {"s": "2FEPRATM", "t": 20.517, "v": 0.36}, {"s": "2FEPRATM", "t": 20.528, "v": -8.97}, {"s": "2FEPRATM", "t": 20.539, "v": 0.36},
      {"s": "2FEPRATM", "t": 20.55, "v": -8.97}, {"s": "2FEPRATM", "t": 20.561, "v": 0.36},
      {"s": "2FEPRATM", "t": 20.626, "v": 0.82}, {"s": "2FEPRATM", "t": 20.796, "v": 1.28}, {"s": "2FEPRATM", "t": 20.893, "v": -8.97}, {"s": "2FEPRATM", "t": 20.899, "v": 1.28},
      {"s": "2FEPRATM", "t": 20.967, "v": 1.73}, {"s": "2FEPRATM", "t": 21.005, "v": -8.97}, {"s": "2FEPRATM", "t": 21.011, "v": 1.73}, {"s": "2FEPRATM", "t": 21.062, "v": -8.97},
      {"s": "2FEPRATM", "t": 21.068, "v": 1.73}, {"s": "2FEPRATM", "t": 21.162, "v": 2.23}, {"s": "2FEPRATM", "t": 21.371, "v": 2.7}, {"s": "2FEPRATM", "t": 22.77, "v": 3.5},
      {"s": "2FE00ATM", "t": 16.52, "v": -11}, {"s": "2FE00ATM", "t": 18.05, "v": -9.9}, {"s": "2FE00ATM", "t": 18.092, "v": -9.61}, {"s": "2FE00ATM", "t": 18.199, "v": -9.26},
      {"s": "2FE00ATM", "t": 18.287, "v": -8.87}, {"s": "2FE00ATM", "t": 18.369, "v": -8.52}, {"s": "2FE00ATM", "t": 18.457, "v": -8.16}, {"s": "2FE00ATM", "t": 18.54, "v": -7.81},
      {"s": "2FE00ATM", "t": 18.618, "v": -7.44}, {"s": "2FE00ATM", "t": 18.701, "v": -7.07}, {"s": "2FE00ATM", "t": 18.788, "v": -6.72}, {"s": "2FE00ATM", "t": 18.881, "v": -6.36},
      {"s": "2FE00ATM", "t": 18.979, "v": -6.03}, {"s": "2FE00ATM", "t": 19.076, "v": -5.64}, {"s": "2FE00ATM", "t": 19.139, "v": -5.27}, {"s": "2FE00ATM", "t": 19.261, "v": -4.98},
      {"s": "2FE00ATM", "t": 19.383, "v": -4.61}, {"s": "2FE00ATM", "t": 19.505, "v": -4.26}, {"s": "2FE00ATM", "t": 19.588, "v": -3.98}, {"s": "2FE00ATM", "t": 19.7, "v": -3.61},
      {"s": "2FE00ATM", "t": 19.797, "v": -3.29}, {"s": "2FE00ATM", "t": 19.909, "v": -2.95}, {"s": "2FE00ATM", "t": 20.017, "v": -2.61}, {"s": "2FE00ATM", "t": 20.129, "v": -2.25},
      {"s": "2FE00ATM", "t": 20.236, "v": -1.93},
      {"s": "2FE00ATM", "t": 20.32, "v": 3}, {"s": "2FE00ATM", "t": 20.336, "v": -1.6}, {"s": "2FE00ATM", "t": 20.352, "v": 3}, {"s": "2FE00ATM", "t": 20.368, "v": -1.6},
      {"s": "2FE00ATM", "t": 20.384, "v": 3}, {"s": "2FE00ATM", "t": 20.4, "v": -1.6}, {"s": "2FE00ATM", "t": 20.416, "v": 3}, {"s": "2FE00ATM", "t": 20.432, "v": -1.6},
      {"s": "2FE00ATM", "t": 20.448, "v": 3}, {"s": "2FE00ATM", "t": 20.464, "v": -1.21},
      {"s": "2FE00ATM", "t": 20.506, "v": 3}, {"s": "2FE00ATM", "t": 20.517, "v": -1.21}, {"s": "2FE00ATM", "t": 20.528, "v": 3}, {"s": "2FE00ATM", "t": 20.539, "v": -1.21},
      {"s": "2FE00ATM", "t": 20.55, "v": 3}, {"s": "2FE00ATM", "t": 20.561, "v": -0.93},
      {"s": "2FE00ATM", "t": 20.699, "v": -0.61}, {"s": "2FE00ATM", "t": 20.821, "v": -0.29},
      {"s": "2FE00ATM", "t": 20.886, "v": 3}, {"s": "2FE00ATM", "t": 20.902, "v": -0.29}, {"s": "2FE00ATM", "t": 20.918, "v": 3}, {"s": "2FE00ATM", "t": 20.934, "v": -0.29},
      {"s": "2FE00ATM", "t": 20.95, "v": 3}, {"s": "2FE00ATM", "t": 20.966, "v": 0.08}, {"s": "2FE00ATM", "t": 20.982, "v": 3}, {"s": "2FE00ATM", "t": 20.998, "v": 0.08},
      {"s": "2FE00ATM", "t": 21.007, "v": 3}, {"s": "2FE00ATM", "t": 21.016, "v": 0.08},
      {"s": "2FE00ATM", "t": 21.032, "v": 3}, {"s": "2FE00ATM", "t": 21.045, "v": 0.38}, {"s": "2FE00ATM", "t": 21.058, "v": 3}, {"s": "2FE00ATM", "t": 21.069, "v": 0.38},
      {"s": "2FE00ATM", "t": 21.176, "v": 0.68}, {"s": "2FE00ATM", "t": 21.313, "v": 1.01}, {"s": "2FE00ATM", "t": 21.445, "v": 1.35}, {"s": "2FE00ATM", "t": 21.576, "v": 1.67},
      {"s": "2FE00ATM", "t": 21.698, "v": 1.98}, {"s": "2FE00ATM", "t": 21.771, "v": 4}, {"s": "2FE00ATM", "t": 21.775, "v": -12}, {"s": "2FE00ATM", "t": 21.78, "v": -12}
    ]
  },
  "vconcat": [
    {
      "width": 1805, "height": 673,
      "layer": [
        {"data": {"name": "spans"}, "mark": {"type": "rect", "color": "#f08080", "opacity": 0.12},
         "encoding": {"x": {"field": "a", "type": "quantitative", "scale": {"domain": [16.21, 23.08], "nice": false, "zero": false},
           "axis": {"orient": "top", "values": [16.5, 17, 17.5, 18, 18.5, 19, 19.5, 20, 20.5, 21, 21.5, 22, 22.5, 23],
             "labelExpr": "datum.value % 1 !== 0 ? '' : '2024:' + (datum.value < 20 ? '185:' + (datum.value + 4) : '186:0' + (datum.value - 20)) + ':00:00.000'",
             "labelAngle": 270, "labelAlign": "left", "labelBaseline": "middle", "labelFontSize": 16, "labelPadding": 9, "labelLimit": 0, "tickSize": 10, "tickWidth": 2,
             "tickOpacity": {"condition": {"test": "datum.value % 1 !== 0", "value": 0}, "value": 1},
             "title": null, "grid": true, "gridColor": "#b0b0b0",
             "gridWidth": {"condition": {"test": "datum.value % 1 !== 0", "value": 1.5}, "value": 2},
             "gridDash": {"condition": {"test": "datum.value % 1 !== 0", "value": [8, 5]}, "value": []}}},
           "x2": {"field": "b"}}},
        {"data": {"name": "dark"}, "mark": {"type": "rect", "color": "#646464", "opacity": 0.165},
         "encoding": {"x": {"field": "a", "type": "quantitative", "scale": {"domain": [16.21, 23.08], "nice": false, "zero": false}}, "x2": {"field": "b"}}},
        {"data": {"name": "marks"}, "mark": {"type": "rule", "color": "black", "strokeWidth": 2.5},
         "encoding": {"x": {"field": "t", "type": "quantitative", "scale": {"domain": [16.21, 23.08], "nice": false, "zero": false}}}},
        {"data": {"name": "pitch"}, "mark": {"type": "line", "color": "black", "strokeWidth": 4, "clip": true},
         "encoding": {
           "x": {"field": "t", "type": "quantitative", "scale": {"domain": [16.21, 23.08], "nice": false, "zero": false}},
           "y": {"field": "v", "type": "quantitative", "scale": {"domain": [45, 180], "nice": false, "zero": false},
             "axis": {"title": "Pitch Angle", "values": [60, 80, 100, 120, 140, 160, 180]}}}},
        {"data": {"name": "obs"}, "mark": {"type": "text", "angle": 270, "align": "left", "baseline": "middle", "fontSize": 28, "fontWeight": "bold", "color": "black"},
         "encoding": {
           "x": {"field": "t", "type": "quantitative", "scale": {"domain": [16.21, 23.08], "nice": false, "zero": false}},
           "y": {"datum": 183.8, "type": "quantitative", "scale": {"domain": [45, 180], "nice": false, "zero": false}},
           "text": {"field": "label"}}}
      ]
    },
    {
      "width": 1805, "height": 673,
      "layer": [
        {"data": {"name": "spans"}, "mark": {"type": "rect", "color": "#f08080", "opacity": 0.12},
         "encoding": {"x": {"field": "a", "type": "quantitative", "scale": {"domain": [16.21, 23.08], "nice": false, "zero": false},
           "axis": {"values": [16.5, 17, 17.5, 18, 18.5, 19, 19.5, 20, 20.5, 21, 21.5, 22, 22.5, 23], "labels": false, "title": null, "tickSize": 29,
             "tickOpacity": {"condition": {"test": "datum.value % 1 !== 0", "value": 0}, "value": 1}, "grid": true, "gridColor": "#b0b0b0",
             "gridWidth": {"condition": {"test": "datum.value % 1 !== 0", "value": 1.5}, "value": 2},
             "gridDash": {"condition": {"test": "datum.value % 1 !== 0", "value": [8, 5]}, "value": []}}},
           "x2": {"field": "b"}}},
        {"data": {"name": "marks"}, "mark": {"type": "rule", "color": "black", "strokeWidth": 2.5},
         "encoding": {"x": {"field": "t", "type": "quantitative", "scale": {"domain": [16.21, 23.08], "nice": false, "zero": false}}}},
        {"data": {"name": "ref"}, "mark": {"type": "rule", "color": "#808080", "strokeWidth": 2.5, "clip": true},
         "encoding": {"y": {"field": "v", "type": "quantitative", "scale": {"domain": [-11.95, 11.03], "nice": false, "zero": false}}}},
        {"data": {"name": "fit"}, "mark": {"type": "line", "color": "#4a4444", "strokeWidth": 5, "clip": true},
         "encoding": {
           "x": {"field": "t", "type": "quantitative", "scale": {"domain": [16.21, 23.08], "nice": false, "zero": false}},
           "y": {"field": "v", "type": "quantitative", "scale": {"domain": [-11.95, 11.03], "nice": false, "zero": false}}}},
        {"data": {"name": "p2"}, "mark": {"type": "line", "interpolate": "step-after", "strokeWidth": 7, "clip": true},
         "encoding": {
           "x": {"field": "t", "type": "quantitative", "scale": {"domain": [16.21, 23.08], "nice": false, "zero": false}},
           "y": {"field": "v", "type": "quantitative", "scale": {"domain": [-11.95, 11.03], "nice": false, "zero": false},
             "axis": {"title": "Temperature", "values": [-10, -5, 0, 5, 10]}},
           "color": {"field": "s", "type": "nominal",
             "scale": {"domain": ["2CHTRPZT", "2CEAHVPT", "2DTSTATT", "2DCENTRT", "2FHTRMZT"], "range": ["#1f77b4", "#ff7f0e", "#2ca02c", "#d62728", "#9467bd"]},
             "legend": {"title": null, "orient": "top-left", "columns": 2, "symbolType": "M-1.5,0H1.5"}}}},
        {"data": {"name": "fitbox"}, "mark": {"type": "rect", "fill": "white", "stroke": "black", "strokeWidth": 2.5},
         "encoding": {
           "x": {"field": "a", "type": "quantitative", "scale": {"domain": [16.21, 23.08], "nice": false, "zero": false}},
           "x2": {"field": "b"},
           "y": {"field": "lo", "type": "quantitative", "scale": {"domain": [-11.95, 11.03], "nice": false, "zero": false}},
           "y2": {"field": "hi"}}},
        {"data": {"name": "fittext"}, "mark": {"type": "text", "align": "left", "baseline": "middle", "fontSize": 27, "color": "black"},
         "encoding": {
           "x": {"field": "t", "type": "quantitative", "scale": {"domain": [16.21, 23.08], "nice": false, "zero": false}},
           "y": {"field": "v", "type": "quantitative", "scale": {"domain": [-11.95, 11.03], "nice": false, "zero": false}},
           "text": {"field": "label"}}}
      ]
    },
    {
      "width": 1805, "height": 673,
      "layer": [
        {"data": {"name": "spans"}, "mark": {"type": "rect", "color": "#f08080", "opacity": 0.12},
         "encoding": {"x": {"field": "a", "type": "quantitative", "scale": {"domain": [16.21, 23.08], "nice": false, "zero": false},
           "axis": {"values": [16.5, 17, 17.5, 18, 18.5, 19, 19.5, 20, 20.5, 21, 21.5, 22, 22.5, 23], "labels": false, "title": null, "tickSize": 29,
             "tickOpacity": {"condition": {"test": "datum.value % 1 !== 0", "value": 0}, "value": 1}, "grid": true, "gridColor": "#b0b0b0",
             "gridWidth": {"condition": {"test": "datum.value % 1 !== 0", "value": 1.5}, "value": 2},
             "gridDash": {"condition": {"test": "datum.value % 1 !== 0", "value": [8, 5]}, "value": []}}},
           "x2": {"field": "b"}}},
        {"data": {"name": "marks"}, "mark": {"type": "rule", "color": "black", "strokeWidth": 2.5},
         "encoding": {"x": {"field": "t", "type": "quantitative", "scale": {"domain": [16.21, 23.08], "nice": false, "zero": false}}}},
        {"data": {"name": "ref"}, "mark": {"type": "rule", "color": "#808080", "strokeWidth": 2.5, "clip": true},
         "encoding": {"y": {"field": "v", "type": "quantitative", "scale": {"domain": [2.45, 13.49], "nice": false, "zero": false}}}},
        {"data": {"name": "p2"}, "transform": [{"filter": "datum.s === '2CEAHVPT'"}],
         "mark": {"type": "line", "interpolate": "step-after", "strokeWidth": 7, "clip": true},
         "encoding": {
           "x": {"field": "t", "type": "quantitative", "scale": {"domain": [16.21, 23.08], "nice": false, "zero": false}},
           "y": {"field": "v", "type": "quantitative", "scale": {"domain": [2.45, 13.49], "nice": false, "zero": false},
             "axis": {"title": "Temperature", "values": [4, 6, 8, 10, 12], "format": "d"}},
           "color": {"field": "s", "type": "nominal", "scale": {"domain": ["2CEAHVPT", "Model"], "range": ["#1f77b4", "#ff7f0e"]},
             "legend": {"title": null, "orient": "bottom-right", "offset": 12, "symbolType": "M-1.5,0H1.5",
               "encode": {"symbols": {"update": {"strokeWidth": {"signal": "datum.value === 'Model' ? 4.5 : 8"}}}}}}}},
        {"data": {"name": "model"}, "mark": {"type": "line", "strokeWidth": 4.5, "clip": true},
         "encoding": {
           "x": {"field": "t", "type": "quantitative", "scale": {"domain": [16.21, 23.08], "nice": false, "zero": false}},
           "y": {"field": "v", "type": "quantitative", "scale": {"domain": [2.45, 13.49], "nice": false, "zero": false}},
           "color": {"field": "s", "type": "nominal", "scale": {"domain": ["2CEAHVPT", "Model"], "range": ["#1f77b4", "#ff7f0e"]}}}}
      ]
    },
    {
      "width": 1805, "height": 673,
      "layer": [
        {"data": {"name": "spans"}, "mark": {"type": "rect", "color": "#f08080", "opacity": 0.12},
         "encoding": {"x": {"field": "a", "type": "quantitative", "scale": {"domain": [16.21, 23.08], "nice": false, "zero": false},
           "axis": {"values": [16.5, 17, 17.5, 18, 18.5, 19, 19.5, 20, 20.5, 21, 21.5, 22, 22.5, 23], "labels": false, "title": null, "tickSize": 29,
             "tickOpacity": {"condition": {"test": "datum.value % 1 !== 0", "value": 0}, "value": 1}, "grid": true, "gridColor": "#b0b0b0",
             "gridWidth": {"condition": {"test": "datum.value % 1 !== 0", "value": 1.5}, "value": 2},
             "gridDash": {"condition": {"test": "datum.value % 1 !== 0", "value": [8, 5]}, "value": []}}},
           "x2": {"field": "b"}}},
        {"data": {"name": "marks"}, "mark": {"type": "rule", "color": "black", "strokeWidth": 2.5},
         "encoding": {"x": {"field": "t", "type": "quantitative", "scale": {"domain": [16.21, 23.08], "nice": false, "zero": false}}}},
        {"data": {"name": "rate"}, "mark": {"type": "line", "strokeWidth": 2.5, "clip": true},
         "encoding": {
           "x": {"field": "t", "type": "quantitative", "scale": {"domain": [16.21, 23.08], "nice": false, "zero": false}},
           "y": {"field": "v", "type": "quantitative", "scale": {"type": "log", "domain": [50, 9100], "nice": false},
             "axis": {"title": "Rate", "values": [100, 1000], "labelExpr": "datum.value === 1000 ? '10³' : '10²'"}},
           "color": {"field": "s", "type": "nominal",
             "scale": {"domain": ["2TLEV1RT (28)", "2VLEV1RT (27)", "2SHEV1RT (1,651)", "Old Proxy", "New Proxy"], "range": ["#1f77b4", "#ff7f0e", "#2ca02c", "#9467bd", "#bcbd22"]},
             "legend": {"title": null, "orient": "none", "legendX": 15, "legendY": 227, "symbolType": "M-1.5,0H1.5", "rowPadding": 9,
               "encode": {"symbols": {"update": {
                 "strokeDash": {"signal": "datum.value === 'Old Proxy' ? [6, 4] : datum.value === 'New Proxy' ? [3, 3] : [1, 0]"},
                 "strokeWidth": {"signal": "datum.value === 'Old Proxy' || datum.value === 'New Proxy' ? 2.5 : 8"}}}}}}}},
        {"data": {"name": "shevband"}, "mark": {"type": "area", "color": "#2ca02c", "opacity": 1, "clip": true},
         "encoding": {
           "x": {"field": "t", "type": "quantitative", "scale": {"domain": [16.21, 23.08], "nice": false, "zero": false}},
           "y": {"field": "lo", "type": "quantitative", "scale": {"type": "log", "domain": [50, 9100], "nice": false}},
           "y2": {"field": "hi"}}},
        {"data": {"name": "proxy"}, "transform": [{"fold": ["Old Proxy", "New Proxy"], "as": ["s", "v"]}],
         "mark": {"type": "line", "strokeWidth": 2, "clip": true},
         "encoding": {
           "x": {"field": "t", "type": "quantitative", "scale": {"domain": [16.21, 23.08], "nice": false, "zero": false}},
           "y": {"field": "v", "type": "quantitative", "scale": {"type": "log", "domain": [50, 9100], "nice": false}},
           "color": {"field": "s", "type": "nominal",
             "scale": {"domain": ["2TLEV1RT (28)", "2VLEV1RT (27)", "2SHEV1RT (1,651)", "Old Proxy", "New Proxy"], "range": ["#1f77b4", "#ff7f0e", "#2ca02c", "#9467bd", "#bcbd22"]}},
           "strokeDash": {"field": "s", "type": "nominal", "scale": {"domain": ["Old Proxy", "New Proxy"], "range": [[6, 4], [3, 3]]}, "legend": null}}}
      ]
    },
    {
      "width": 1805, "height": 673,
      "layer": [
        {"data": {"name": "spans"}, "mark": {"type": "rect", "color": "#f08080", "opacity": 0.12},
         "encoding": {"x": {"field": "a", "type": "quantitative", "scale": {"domain": [16.21, 23.08], "nice": false, "zero": false},
           "axis": {"values": [16.5, 17, 17.5, 18, 18.5, 19, 19.5, 20, 20.5, 21, 21.5, 22, 22.5, 23], "labels": false, "title": null, "tickSize": 29,
             "tickOpacity": {"condition": {"test": "datum.value % 1 !== 0", "value": 0}, "value": 1}, "grid": true, "gridColor": "#b0b0b0",
             "gridWidth": {"condition": {"test": "datum.value % 1 !== 0", "value": 1.5}, "value": 2},
             "gridDash": {"condition": {"test": "datum.value % 1 !== 0", "value": [8, 5]}, "value": []}}},
           "x2": {"field": "b"}}},
        {"data": {"name": "marks"}, "mark": {"type": "rule", "color": "black", "strokeWidth": 2.5},
         "encoding": {"x": {"field": "t", "type": "quantitative", "scale": {"domain": [16.21, 23.08], "nice": false, "zero": false}}}},
        {"data": {"name": "volt"}, "mark": {"type": "line", "interpolate": "step-after", "strokeWidth": 7, "clip": true},
         "encoding": {
           "x": {"field": "t", "type": "quantitative", "scale": {"domain": [16.21, 23.08], "nice": false, "zero": false}},
           "y": {"field": "v", "type": "quantitative", "scale": {"domain": [-20, 20], "nice": false, "zero": false},
             "axis": {"title": "Volt", "values": [-20, -15, -10, -5, 0, 5, 10, 15, 20]}},
           "color": {"field": "s", "type": "nominal",
             "scale": {"domain": ["2P15VAVL", "2N15VAVL", "2P05VAVL"], "range": ["#1f77b4", "#ff7f0e", "#2ca02c"]},
             "legend": {"title": null, "orient": "top-right", "offset": 12, "symbolType": "M-1.5,0H1.5"}}}}
      ]
    },
    {
      "width": 1805, "height": 673,
      "layer": [
        {"data": {"name": "spans"}, "mark": {"type": "rect", "color": "#f08080", "opacity": 0.12},
         "encoding": {"x": {"field": "a", "type": "quantitative", "scale": {"domain": [16.21, 23.08], "nice": false, "zero": false},
           "axis": {"values": [16.5, 17, 17.5, 18, 18.5, 19, 19.5, 20, 20.5, 21, 21.5, 22, 22.5, 23], "labels": false, "title": null, "tickSize": 29,
             "tickOpacity": {"condition": {"test": "datum.value % 1 !== 0", "value": 0}, "value": 1}, "grid": true, "gridColor": "#b0b0b0",
             "gridWidth": {"condition": {"test": "datum.value % 1 !== 0", "value": 1.5}, "value": 2},
             "gridDash": {"condition": {"test": "datum.value % 1 !== 0", "value": [8, 5]}, "value": []}}},
           "x2": {"field": "b"}}},
        {"data": {"name": "marks"}, "mark": {"type": "rule", "color": "black", "strokeWidth": 2.5},
         "encoding": {"x": {"field": "t", "type": "quantitative", "scale": {"domain": [16.21, 23.08], "nice": false, "zero": false}}}},
        {"data": {"name": "hvband"}, "transform": [{"fold": ["2SPHBLV", "2SPHVLV"], "as": ["s", "v"]}],
         "mark": {"type": "circle", "size": 170, "opacity": 1, "clip": true},
         "encoding": {
           "x": {"field": "t", "type": "quantitative", "scale": {"domain": [16.21, 23.08], "nice": false, "zero": false}},
           "y": {"field": "v", "type": "quantitative", "scale": {"domain": [0, 267], "nice": false, "zero": false},
             "axis": {"title": "HV Monitor", "values": [0, 50, 100, 150, 200, 250]}},
           "color": {"field": "s", "type": "nominal",
             "scale": {"domain": ["2SPHBLV", "2SPHVLV", "2IMHVLV", "2IMHBLV"], "range": ["#1f77b4", "#ff7f0e", "#2ca02c", "#d62728"]},
             "legend": {"title": null, "orient": "top-right", "offset": 13, "symbolType": "circle", "symbolSize": 110, "rowPadding": 15, "labelOffset": 46, "padding": 16}}}},
        {"data": {"name": "hv"}, "mark": {"type": "circle", "size": 130, "opacity": 1, "clip": true},
         "encoding": {
           "x": {"field": "t", "type": "quantitative", "scale": {"domain": [16.21, 23.08], "nice": false, "zero": false}},
           "y": {"field": "v", "type": "quantitative", "scale": {"domain": [0, 267], "nice": false, "zero": false}},
           "color": {"field": "s", "type": "nominal",
             "scale": {"domain": ["2SPHBLV", "2SPHVLV", "2IMHVLV", "2IMHBLV"], "range": ["#1f77b4", "#ff7f0e", "#2ca02c", "#d62728"]}}}}
      ]
    },
    {
      "width": 1805, "height": 673,
      "layer": [
        {"data": {"name": "spans"}, "mark": {"type": "rect", "color": "#f08080", "opacity": 0.12},
         "encoding": {"x": {"field": "a", "type": "quantitative", "scale": {"domain": [16.21, 23.08], "nice": false, "zero": false},
           "axis": {"values": [16.5, 17, 17.5, 18, 18.5, 19, 19.5, 20, 20.5, 21, 21.5, 22, 22.5, 23], "labels": false, "title": null, "tickSize": 29,
             "tickOpacity": {"condition": {"test": "datum.value % 1 !== 0", "value": 0}, "value": 1}, "grid": true, "gridColor": "#b0b0b0",
             "gridWidth": {"condition": {"test": "datum.value % 1 !== 0", "value": 1.5}, "value": 2},
             "gridDash": {"condition": {"test": "datum.value % 1 !== 0", "value": [8, 5]}, "value": []}}},
           "x2": {"field": "b"}}},
        {"data": {"name": "marks"}, "mark": {"type": "rule", "color": "black", "strokeWidth": 2.5},
         "encoding": {"x": {"field": "t", "type": "quantitative", "scale": {"domain": [16.21, 23.08], "nice": false, "zero": false}}}},
        {"data": {"name": "det"}, "mark": {"type": "line", "interpolate": "step-after", "strokeWidth": 7, "clip": true},
         "encoding": {
           "x": {"field": "t", "type": "quantitative", "scale": {"domain": [16.21, 23.08], "nice": false, "zero": false}},
           "y": {"field": "v", "type": "quantitative", "scale": {"domain": [-2.01, 20.67], "nice": false, "zero": false},
             "axis": {"title": "Detector Temp", "values": [0, 5, 10, 15, 20]}},
           "color": {"field": "s", "type": "nominal",
             "scale": {"domain": ["2SPINATM", "2SPHVATM", "2IMINATM", "2IMHVATM"], "range": ["#1f77b4", "#ff7f0e", "#2ca02c", "#d62728"]},
             "legend": {"title": null, "orient": "top-right", "offset": 12, "symbolType": "M-1.5,0H1.5"}}}}
      ]
    },
    {
      "width": 1805, "height": 673,
      "layer": [
        {"data": {"name": "spans"}, "mark": {"type": "rect", "color": "#f08080", "opacity": 0.12},
         "encoding": {"x": {"field": "a", "type": "quantitative", "scale": {"domain": [16.21, 23.08], "nice": false, "zero": false},
           "axis": {"values": [16.5, 17, 17.5, 18, 18.5, 19, 19.5, 20, 20.5, 21, 21.5, 22, 22.5, 23],
             "labelExpr": "datum.value % 1 === 0 ? ['', datum.value + 'h'] : '30'",
             "labelFontSize": {"condition": {"test": "datum.value % 1 === 0", "value": 28}, "value": 16},
             "labelBaseline": {"condition": {"test": "datum.value % 1 === 0", "value": "top"}, "value": "bottom"},
             "labelLineHeight": 18, "labelPadding": -8, "tickSize": 29,
             "tickOpacity": {"condition": {"test": "datum.value % 1 !== 0", "value": 0}, "value": 1},
             "title": "2024-07-03 (185)", "titleFontSize": 30, "titlePadding": 9, "grid": true, "gridColor": "#b0b0b0",
             "gridWidth": {"condition": {"test": "datum.value % 1 !== 0", "value": 1.5}, "value": 2},
             "gridDash": {"condition": {"test": "datum.value % 1 !== 0", "value": [8, 5]}, "value": []}}},
           "x2": {"field": "b"}}},
        {"data": {"name": "marks"}, "mark": {"type": "rule", "color": "black", "strokeWidth": 2.5},
         "encoding": {"x": {"field": "t", "type": "quantitative", "scale": {"domain": [16.21, 23.08], "nice": false, "zero": false}}}},
        {"data": {"name": "p2"}, "transform": [{"filter": "datum.s === '2FHTRMZT'"}],
         "mark": {"type": "line", "interpolate": "step-after", "strokeWidth": 7, "clip": true},
         "encoding": {
           "x": {"field": "t", "type": "quantitative", "scale": {"domain": [16.21, 23.08], "nice": false, "zero": false}},
           "y": {"field": "v", "type": "quantitative", "scale": {"domain": [-9.68, 2.3], "nice": false, "zero": false},
             "axis": {"title": "FEA Temp", "values": [-8, -6, -4, -2, 0, 2], "format": "d"}},
           "color": {"field": "s", "type": "nominal",
             "scale": {"domain": ["2FHTRMZT", "2FRADPYT", "2FEPRATM", "2FE00ATM"], "range": ["#1f77b4", "#ff7f0e", "#2ca02c", "#d62728"]},
             "legend": {"title": null, "orient": "bottom-right", "offset": 12, "symbolType": "M-1.5,0H1.5"}}}},
        {"data": {"name": "fea"}, "mark": {"type": "line", "interpolate": "step-after", "strokeWidth": 7, "clip": true},
         "encoding": {
           "x": {"field": "t", "type": "quantitative", "scale": {"domain": [16.21, 23.08], "nice": false, "zero": false}},
           "y": {"field": "v", "type": "quantitative", "scale": {"domain": [-9.68, 2.3], "nice": false, "zero": false}},
           "color": {"field": "s", "type": "nominal",
             "scale": {"domain": ["2FHTRMZT", "2FRADPYT", "2FEPRATM", "2FE00ATM"], "range": ["#1f77b4", "#ff7f0e", "#2ca02c", "#d62728"]}}}}
      ]
    }
  ]
}
